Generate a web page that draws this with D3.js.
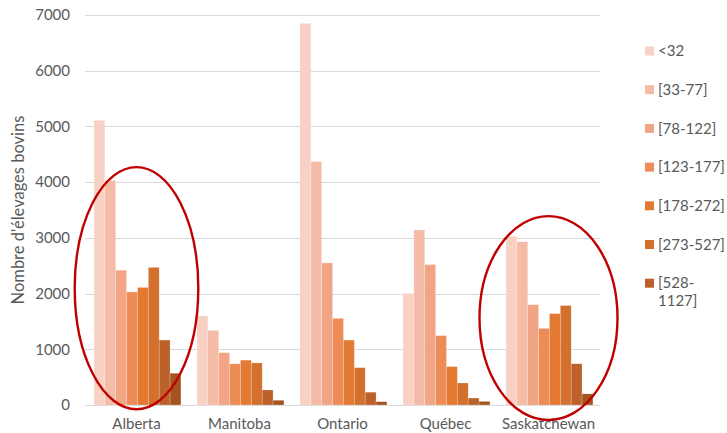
<!DOCTYPE html>
<html>
<head>
<meta charset="utf-8">
<script src="https://cdn.jsdelivr.net/npm/d3@7/dist/d3.min.js"></script>
<style>
  html, body { margin: 0; padding: 0; background: #fff; }
  svg { display: block; font-family: Lato, "Open Sans", sans-serif; }
</style>
</head>
<body>
<svg id="chart" width="727" height="433"></svg>
<script>
// Provinces along the x axis
const provinces = ["Alberta", "Manitoba", "Ontario", "Québec", "Saskatchewan"];

// Herd-size classes (number of head)
const classes = ["<32", "[33-77]", "[78-122]", "[123-177]", "[178-272]", "[273-527]", "[528-1127]", ">1127"];

// Number of cattle farms per class, one array per province
const alberta      = [5110, 4030, 2420, 2030, 2110, 2470, 1165, 570];
const manitoba     = [1600, 1340, 940, 740, 805, 755, 270, 85];
const ontario      = [6850, 4370, 2550, 1555, 1165, 670, 230, 60];
const quebec       = [2005, 3140, 2520, 1245, 690, 395, 125, 65];
const saskatchewan = [3030, 2930, 1800, 1375, 1640, 1785, 740, 200];

const yTicks = [0, 1000, 2000, 3000, 4000, 5000, 6000, 7000];
const legendLabels = ["<32", "[33-77]", "[78-122]", "[123-177]", "[178-272]", "[273-527]", ["[528-", "1127]"]];
const colors = ["#f8d1c4", "#f4bba6", "#f1a585", "#ee8c58", "#e47a31", "#d3702d", "#bb6129", "#a3541f"];

// Highlighted provinces: vertical extent in data units, horizontal radius relative to band
const highlightProvinces = ["Alberta", "Saskatchewan"];
const highlightTop = [4270, 3390];
const highlightBottom = [-75, -270];
const highlightWidth = [0.6, 0.67];

const table = [alberta, manitoba, ontario, quebec, saskatchewan];
const rows = provinces.map((p, i) => ({ province: p, values: table[i] }));

const svg = d3.select("#chart");
const margin = { left: 85, right: 127, top: 15, bottom: 28 };
const W = 727, H = 433;

const x = d3.scaleBand().domain(provinces).range([margin.left, W - margin.right]).padding(0);
const xs = d3.scaleBand().domain(classes).range([0, x.bandwidth()]).paddingOuter(0.74).align(0.56);
const y = d3.scaleLinear().domain([0, 7000]).range([H - margin.bottom, margin.top]);
const color = d3.scaleOrdinal().domain(classes).range(colors);

// Gridlines
svg.append("g")
  .selectAll("line")
  .data(yTicks)
  .join("line")
  .attr("x1", margin.left).attr("x2", W - margin.right)
  .attr("y1", d => Math.round(y(d)) + 0.5).attr("y2", d => Math.round(y(d)) + 0.5)
  .attr("stroke", "#d9d9d9").attr("stroke-width", 1);

// Y axis labels
const yAxis = d3.axisLeft(y).tickValues(yTicks).tickSize(0).tickPadding(0).tickFormat(d3.format("d"));
const gy = svg.append("g").attr("transform", `translate(${margin.left - 15},0)`).call(yAxis);
gy.select(".domain").remove();
gy.selectAll("text").attr("fill", "#595959").attr("font-size", 15).attr("font-family", "Lato, sans-serif");

// Y axis title
svg.append("text")
  .attr("transform", `translate(24,${(y(0) + y(7000)) / 2}) rotate(-90)`)
  .attr("text-anchor", "middle")
  .attr("fill", "#595959")
  .attr("font-size", 16.5)
  .text("Nombre d'élevages bovins");

// Bars
const groups = svg.append("g").selectAll("g")
  .data(rows)
  .join("g")
  .attr("transform", d => `translate(${x(d.province)},0)`);

groups.selectAll("rect")
  .data(d => d.values.map((v, i) => ({ cls: classes[i], value: v })))
  .join("rect")
  .attr("x", d => xs(d.cls))
  .attr("width", xs.bandwidth())
  .attr("y", d => y(d.value))
  .attr("height", d => y(0) - y(d.value))
  .attr("fill", d => color(d.cls))
  .attr("stroke", "#ffffff").attr("stroke-opacity", 0.35).attr("stroke-width", 0.6);

// X axis labels
const xAxis = d3.axisBottom(x).tickSize(0).tickPadding(0);
const gx = svg.append("g").attr("transform", `translate(0,${H - 15})`).call(xAxis);
gx.select(".domain").remove();
gx.selectAll("text").attr("fill", "#595959").attr("font-size", 15).attr("font-family", "Lato, sans-serif");

// Highlight ellipses
svg.append("g").selectAll("ellipse")
  .data(highlightProvinces.map((p, i) => ({ p, top: highlightTop[i], bottom: highlightBottom[i], w: highlightWidth[i] })))
  .join("ellipse")
  .attr("cx", d => x(d.p) + x.bandwidth() / 2)
  .attr("cy", d => (y(d.top) + y(d.bottom)) / 2)
  .attr("rx", d => x.bandwidth() * d.w)
  .attr("ry", d => (y(d.bottom) - y(d.top)) / 2)
  .attr("fill", "none")
  .attr("stroke", "#c00000")
  .attr("stroke-width", 2.4);

// Legend
const legend = svg.append("g").attr("transform", "translate(645,0)");
const li = legend.selectAll("g")
  .data(legendLabels)
  .join("g")
  .attr("transform", (d, i) => `translate(0,${51 + i * 38.7})`);
li.append("rect")
  .attr("x", 0).attr("y", -4.5).attr("width", 9).attr("height", 9)
  .attr("fill", (d, i) => colors[i]);
li.append("text")
  .attr("x", 13)
  .attr("fill", "#595959")
  .attr("font-size", 15)
  .each(function (d) {
    const lines = Array.isArray(d) ? d : [d];
    d3.select(this).selectAll("tspan")
      .data(lines)
      .join("tspan")
      .attr("x", 13)
      .attr("dy", (l, j) => j === 0 ? "0.35em" : "1.2em")
      .text(l => l);
  });
</script>
</body>
</html>
